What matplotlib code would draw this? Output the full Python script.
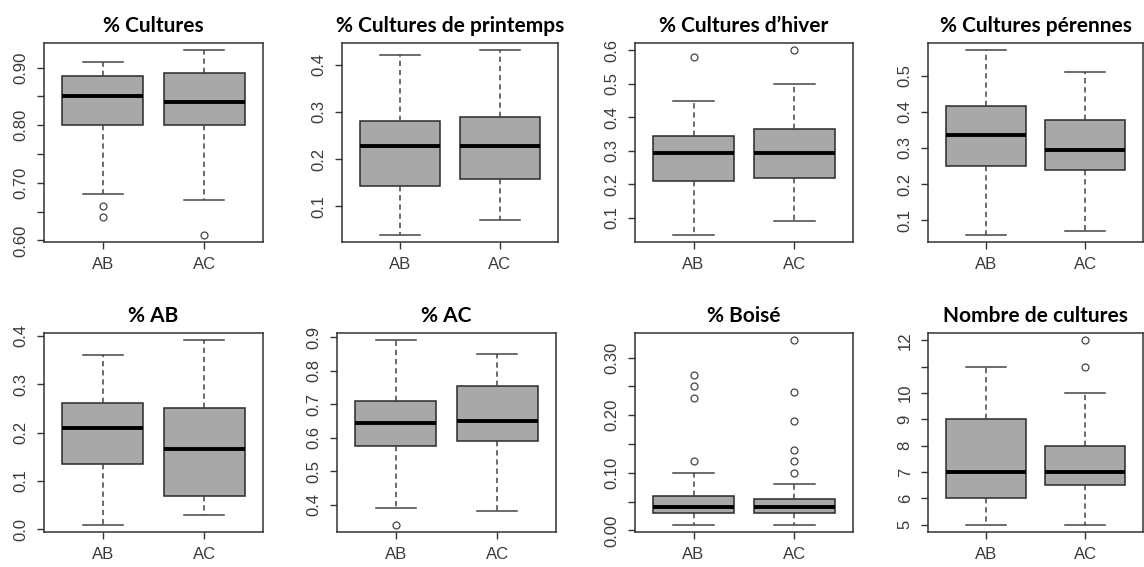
import matplotlib
matplotlib.use('Agg')
import matplotlib.pyplot as plt

plt.rcParams['font.family'] = ['Liberation Sans', 'DejaVu Sans']

# données (AB, AC)
groups = ['AB', 'AC']
titles = ['% Cultures', '% Cultures de printemps', '% Cultures d\u2019hiver', '% Cultures pérennes',
          '% AB', '% AC', '% Boisé', 'Nombre de cultures']

whislo = [[0.68, 0.67], [0.04, 0.07], [0.05, 0.09], [0.06, 0.07],
          [0.01, 0.03], [0.39, 0.38], [0.01, 0.01], [5, 5]]
q1 = [[0.80, 0.80], [0.143, 0.158], [0.21, 0.22], [0.25, 0.24],
      [0.135, 0.07], [0.575, 0.59], [0.03, 0.03], [6, 6.5]]
med = [[0.85, 0.84], [0.228, 0.228], [0.295, 0.295], [0.335, 0.295],
       [0.21, 0.165], [0.642, 0.65], [0.04, 0.04], [7, 7]]
q3 = [[0.885, 0.89], [0.28, 0.288], [0.345, 0.365], [0.415, 0.378],
      [0.26, 0.25], [0.71, 0.755], [0.06, 0.055], [9, 8]]
whishi = [[0.91, 0.93], [0.42, 0.43], [0.45, 0.50], [0.57, 0.51],
          [0.36, 0.39], [0.89, 0.85], [0.10, 0.08], [11, 10]]
fliers = [[[0.66, 0.64], [0.61]],
          [[], []],
          [[0.58], [0.60]],
          [[], []],
          [[], []],
          [[0.34], []],
          [[0.27, 0.25, 0.23, 0.12], [0.33, 0.24, 0.19, 0.14, 0.12, 0.10]],
          [[], [12, 11]]]

yticks = [[0.60, 0.65, 0.70, 0.75, 0.80, 0.85, 0.90],
          [0.1, 0.2, 0.3, 0.4],
          [0.1, 0.2, 0.3, 0.4, 0.5, 0.6],
          [0.1, 0.2, 0.3, 0.4, 0.5],
          [0.0, 0.1, 0.2, 0.3, 0.4],
          [0.4, 0.5, 0.6, 0.7, 0.8, 0.9],
          [0.00, 0.05, 0.10, 0.15, 0.20, 0.25, 0.30],
          [5, 6, 7, 8, 9, 10, 11, 12]]
ylabels = [['0.60', '', '0.70', '', '0.80', '', '0.90'],
           ['0.1', '0.2', '0.3', '0.4'],
           ['0.1', '0.2', '0.3', '0.4', '0.5', '0.6'],
           ['0.1', '0.2', '0.3', '0.4', '0.5'],
           ['0.0', '0.1', '0.2', '0.3', '0.4'],
           ['0.4', '0.5', '0.6', '0.7', '0.8', '0.9'],
           ['0.00', '', '0.10', '', '0.20', '', '0.30'],
           ['5', '6', '7', '8', '9', '10', '', '12']]

W, H = 1144, 567
# positions des panneaux en pixels : gauche, droite, haut, bas
boxes_px = [(44, 263, 43, 242), (342, 558, 43, 242), (635, 853, 43, 242), (928, 1143, 43, 242),
            (44, 263, 333, 532), (337, 556, 333, 532), (635, 853, 333, 532), (928, 1143, 333, 532)]

fig = plt.figure(figsize=(W / 100, H / 100), dpi=100)
edge = '#333333'
txt = '#3a3a3a'

for i in range(8):
    l, r, t, b = boxes_px[i]
    ax = fig.add_axes([l / W, 1 - b / H, (r - l) / W, (b - t) / H])
    stats = []
    for j in range(2):
        stats.append(dict(med=med[i][j], q1=q1[i][j], q3=q3[i][j],
                          whislo=whislo[i][j], whishi=whishi[i][j],
                          fliers=fliers[i][j], label=groups[j]))
    ax.bxp(stats, positions=[1, 2], widths=0.8, capwidths=0.4, patch_artist=True,
           boxprops=dict(facecolor='#a8a8a8', edgecolor='#2a2a2a', linewidth=1.1),
           medianprops=dict(color='black', linewidth=2.8, solid_capstyle='butt'),
           whiskerprops=dict(color='#444444', linewidth=1.1, linestyle=(0, (3.5, 2.5))),
           capprops=dict(color='#444444', linewidth=1.1),
           flierprops=dict(marker='o', markerfacecolor='white', markeredgecolor='#444444',
                           markersize=5, markeredgewidth=0.9))

    # marges à la R : 4 %
    lo = min([whislo[i][0], whislo[i][1]] + fliers[i][0] + fliers[i][1])
    hi = max([whishi[i][0], whishi[i][1]] + fliers[i][0] + fliers[i][1])
    pad = (hi - lo) * 0.04
    ax.set_ylim(lo - pad, hi + pad)
    ax.set_xlim(0.42, 2.58)

    ax.set_yticks(yticks[i])
    ax.set_yticklabels(ylabels[i], rotation=90, va='center', fontsize=12, color=txt)
    ax.set_xticks([1, 2])
    ax.set_xticklabels(groups, fontsize=12, color=txt)
    ax.tick_params(axis='both', length=5, width=1, color=edge, pad=6)
    for s in ax.spines.values():
        s.set_color(edge)
        s.set_linewidth(1.1)

    ax.set_title(titles[i], fontsize=15, fontweight='bold', family=['Lato', 'DejaVu Sans'],
                 color='black', pad=8)

fig.savefig('out.png', dpi=100)
